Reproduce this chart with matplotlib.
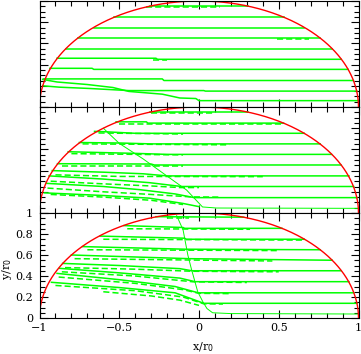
import numpy as np
import matplotlib
matplotlib.use('Agg')
import matplotlib.pyplot as plt
from matplotlib.ticker import MultipleLocator

# ---- top panel ----
top_solid_x = [
    [-0.31, 0.31],
    [-0.53, 0.53],
    [-0.66, 0.66],
    [-0.76, 0.76],
    [-0.835, 0.835],
    [-0.89, -0.27, -0.26, 0.89],
    [-0.935, -0.67, -0.66, 0.935],
    [-0.975, -0.23, -0.22, 0.968],
    [-0.98, -0.875, -0.69, -0.44, 0.03, 0.04, 0.99],
    [-0.98, -0.89, -0.7, -0.54, -0.44, -0.23, -0.12, -0.02, 0.0, 0.998],
]
top_solid_y = [
    [0.95, 0.95],
    [0.85, 0.85],
    [0.75, 0.75],
    [0.65, 0.65],
    [0.55, 0.55],
    [0.46, 0.46, 0.45, 0.45],
    [0.365, 0.365, 0.355, 0.355],
    [0.265, 0.265, 0.25, 0.25],
    [0.2, 0.187, 0.175, 0.155, 0.155, 0.15, 0.15],
    [0.26, 0.236, 0.212, 0.184, 0.147, 0.121, 0.085, 0.08, 0.06, 0.06],
]
top_dash_x = [[-0.33, 0.13], [0.49, 0.69], [-0.29, -0.2]]
top_dash_y = [[0.942, 0.942], [0.643, 0.643], [0.447, 0.447]]
top_front_x = []
top_front_y = []

# ---- middle panel ----
mid_solid_x = [
    [-0.31, 0.31],
    [-0.52, -0.33, -0.32, 0.53],
    [-0.655, -0.57, -0.4, 0.66],
    [-0.75, -0.49, -0.3, 0.76],
    [-0.82, -0.39, -0.2, 0.83],
    [-0.887, -0.3, -0.28, 0.89],
    [-0.92, -0.6, -0.35, -0.2, 0.94],
    [-0.94, -0.6, -0.31, -0.11, 0.97],
    [-0.96, -0.6, -0.37, -0.15, -0.03, 0.99],
    [-0.97, -0.6, -0.31, -0.1, 0.0],
]
mid_solid_y = [
    [0.952, 0.952],
    [0.86, 0.86, 0.848, 0.848],
    [0.77, 0.765, 0.752, 0.752],
    [0.665, 0.66, 0.652, 0.652],
    [0.578, 0.562, 0.553, 0.553],
    [0.465, 0.462, 0.453, 0.453],
    [0.40, 0.385, 0.37, 0.35, 0.35],
    [0.35, 0.32, 0.286, 0.25, 0.25],
    [0.28, 0.25, 0.22, 0.18, 0.145, 0.145],
    [0.19, 0.165, 0.14, 0.09, 0.06],
]
mid_dash_x = [
    [-0.3, 0.09],
    [-0.5, 0.52],
    [-0.63, -0.1],
    [-0.73, 0.19],
    [-0.8, -0.1],
    [-0.86, -0.1],
    [-0.9, -0.5, 0.4],
    [-0.93, -0.6, -0.3, -0.12, 0.0],
    [-0.95, -0.6, -0.3, -0.05, 0.13],
    [-0.93, -0.6, -0.3, -0.1],
]
mid_dash_y = [
    [0.946, 0.946],
    [0.842, 0.842],
    [0.755, 0.745],
    [0.652, 0.643],
    [0.56, 0.548],
    [0.446, 0.446],
    [0.36, 0.345, 0.343],
    [0.3, 0.275, 0.255, 0.24, 0.24],
    [0.235, 0.2, 0.175, 0.152, 0.15],
    [0.175, 0.15, 0.12, 0.08],
]
mid_front_x = [-0.6, -0.5, -0.35, -0.122, -0.078, 0.022, 0.11, 0.995]
mid_front_y = [0.8, 0.657, 0.51, 0.264, 0.217, 0.057, 0.047, 0.044]

# ---- bottom panel ----
bot_solid_x = [
    [-0.27, 0.28],
    [-0.47, -0.1, -0.09, 0.52],
    [-0.62, -0.09, -0.08, 0.66],
    [-0.73, -0.08, 0.76],
    [-0.8, -0.06, 0.835],
    [-0.855, -0.5, -0.12, -0.045, 0.89],
    [-0.875, -0.5, -0.12, -0.025, 0.94],
    [-0.89, -0.5, -0.15, -0.005, 0.97],
    [-0.925, -0.5, -0.15, 0.03, 0.99],
]
bot_solid_y = [
    [0.965, 0.96],
    [0.88, 0.862, 0.854, 0.854],
    [0.78, 0.76, 0.75, 0.75],
    [0.68, 0.655, 0.65],
    [0.6, 0.565, 0.55],
    [0.52, 0.5, 0.47, 0.45, 0.45],
    [0.473, 0.43, 0.38, 0.346, 0.346],
    [0.425, 0.365, 0.3, 0.24, 0.24],
    [0.34, 0.29, 0.24, 0.14, 0.14],
]
bot_dash_x = [
    [-0.2, -0.06],
    [-0.45, 0.32],
    [-0.6, 0.65],
    [-0.7, 0.5],
    [-0.78, 0.46],
    [-0.84, -0.4, -0.04, 0.5],
    [-0.86, -0.4, -0.04, 0.3],
    [-0.88, -0.4, -0.1, 0.0, 0.2],
    [-0.9, -0.4, -0.1, 0.03, 0.15],
    [-0.6, -0.3, -0.12, 0.0],
]
bot_dash_y = [
    [0.955, 0.955],
    [0.85, 0.845],
    [0.75, 0.742],
    [0.65, 0.642],
    [0.565, 0.543],
    [0.48, 0.465, 0.445, 0.44],
    [0.44, 0.4, 0.345, 0.338],
    [0.39, 0.33, 0.27, 0.235, 0.232],
    [0.31, 0.26, 0.2, 0.135, 0.133],
    [0.25, 0.21, 0.17, 0.12],
]
bot_front_x = [-0.14, -0.1, -0.07, -0.05, -0.008, 0.024, 0.05, 0.085, 0.2, 0.998]
bot_front_y = [0.975, 0.84, 0.6, 0.48, 0.25, 0.155, 0.09, 0.05, 0.042, 0.038]

panels = [
    (top_solid_x, top_solid_y, top_dash_x, top_dash_y, top_front_x, top_front_y),
    (mid_solid_x, mid_solid_y, mid_dash_x, mid_dash_y, mid_front_x, mid_front_y),
    (bot_solid_x, bot_solid_y, bot_dash_x, bot_dash_y, bot_front_x, bot_front_y),
]

plt.rcParams['font.family'] = 'DejaVu Serif'
green = '#00ff00'

fig = plt.figure(figsize=(3.61, 3.54), dpi=100)
W, H = 361.0, 354.0
left, width = 39.5 / W, 319 / W
rows = [(1, 107), (107, 213), (213, 318)]

theta = np.linspace(0, np.pi, 400)
for i, (sx, sy, dx, dy, fx, fy) in enumerate(panels):
    top_px, bot_px = rows[i]
    ax = fig.add_axes([left, (H - bot_px) / H, width, (bot_px - top_px) / H])
    for xs, ys in zip(sx, sy):
        ax.plot(xs, ys, color=green, lw=1.1)
    for xs, ys in zip(dx, dy):
        ax.plot(xs, ys, color=green, lw=1.1, dashes=(4, 2))
    if fx:
        ax.plot(fx, fy, color=green, lw=0.7)
    ax.plot(np.cos(theta), np.sin(theta), color='red', lw=1.0)
    ax.set_xlim(-1, 1)
    ax.set_ylim(0, 1)
    ax.xaxis.set_major_locator(MultipleLocator(0.5))
    ax.xaxis.set_minor_locator(MultipleLocator(0.1))
    ax.yaxis.set_major_locator(MultipleLocator(0.2))
    ax.yaxis.set_minor_locator(MultipleLocator(0.05))
    ax.tick_params(which='both', direction='in', top=True, right=True,
                   width=0.8, labelsize=8)
    ax.tick_params(which='major', length=5.5)
    ax.tick_params(which='minor', length=3.5)
    ax.tick_params(axis='x', pad=3.5)
    ax.tick_params(axis='y', pad=4.5)
    for s in ax.spines.values():
        s.set_linewidth(0.8)
    if i < 2:
        ax.set_xticklabels([])
        ax.set_yticklabels([])
    else:
        ax.set_xticks([-1, -0.5, 0, 0.5, 1])
        ax.set_xticklabels(['\u22121', '\u22120.5', '0', '0.5', '1'])
        ax.set_yticks([0, 0.2, 0.4, 0.6, 0.8, 1])
        ax.set_yticklabels(['0', '0.2', '0.4', '0.6', '0.8', '1'])

fig.text(203 / W, (H - 347) / H, 'x/r$_0$', ha='center', va='center', fontsize=8)
fig.text(7 / W, (H - 269) / H, 'y/r$_0$', ha='center', va='center', fontsize=8,
         rotation=90)

fig.savefig('out.png', dpi=100)
